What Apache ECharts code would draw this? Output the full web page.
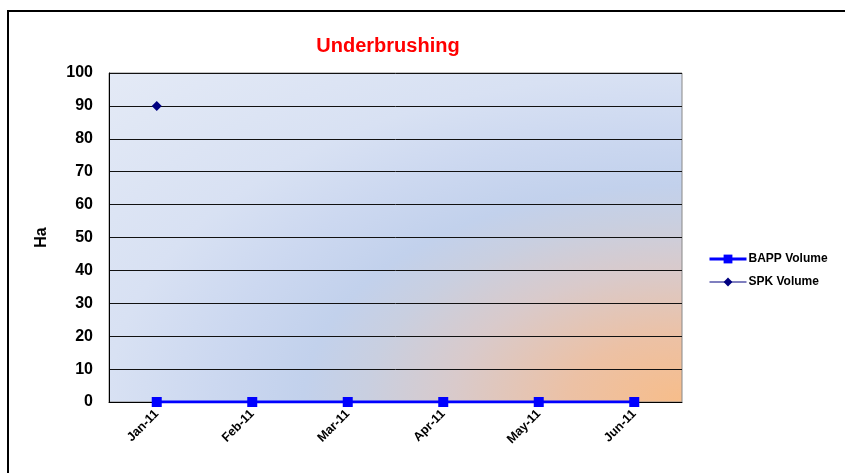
<!DOCTYPE html>
<html>
<head>
<meta charset="utf-8">
<script src="https://cdn.jsdelivr.net/npm/echarts@6/dist/echarts.min.js"></script>
<style>
  html, body { margin: 0; padding: 0; background: #fff; }
  #chart { width: 845px; height: 473px; }
</style>
</head>
<body>
<div id="chart"></div>
<script>
// data
var months = ['Jan-11', 'Feb-11', 'Mar-11', 'Apr-11', 'May-11', 'Jun-11'];
var bappVolume = [0, 0, 0, 0, 0, 0];
var spkVolume = [90, null, null, null, null, null];

var font = 'Arial, "Liberation Sans", sans-serif';

// plot area box
var gl = 109, gt = 73, gw = 573, gh = 329;

// Excel-like "from corner" fill: elliptical gradient out of the bottom-right corner
function cornerFill(w, h) {
    var c = document.createElement('canvas');
    c.width = w; c.height = h;
    var ctx = c.getContext('2d');
    var R = 1.42;
    var stops = [
        [0, '#f7bd8a'], [0.2, '#ecc1a5'], [0.4, '#d9cacb'], [0.55, '#c9cfe0'],
        [0.66, '#c2d1ec'], [0.82, '#ccd8f0'], [1.0, '#d8e1f3'], [1.42, '#e4eaf6']
    ];
    ctx.setTransform(w, 0, 0, h, 0, 0);
    var g = ctx.createRadialGradient(1, 1, 0, 1, 1, R);
    stops.forEach(function (s) { g.addColorStop(Math.min(1, s[0] / R), s[1]); });
    ctx.fillStyle = g;
    ctx.fillRect(0, 0, 1, 1);
    return c;
}

var option = {
    animation: false,
    title: {
        text: 'Underbrushing',
        left: 383,
        top: 31,
        textAlign: 'center',
        textStyle: { color: '#ff0000', fontSize: 20, fontWeight: 'bold', fontFamily: font }
    },
    legend: {
        orient: 'vertical',
        left: 703,
        top: 248,
        itemWidth: 37,
        itemHeight: 11,
        itemGap: 11,
        textStyle: { color: '#000', fontSize: 12, fontWeight: 'bold', fontFamily: font, padding: [0, 0, 0, -3] },
        data: [
            { name: 'BAPP Volume', lineStyle: { width: 3 } },
            { name: 'SPK Volume', lineStyle: { width: 1.2 } }
        ]
    },
    grid: {
        left: gl,
        top: gt,
        right: 845 - gl - gw,
        bottom: 473 - gt - gh,
        show: true,
        borderColor: '#888',
        borderWidth: 1,
        backgroundColor: 'transparent'
    },
    xAxis: {
        type: 'category',
        data: months,
        boundaryGap: true,
        axisLine: { lineStyle: { color: '#000', width: 1 } },
        axisTick: { show: false },
        axisLabel: {
            rotate: 45,
            margin: 10,
            color: '#000',
            fontSize: 12.5,
            fontWeight: 'bold',
            fontFamily: font
        }
    },
    yAxis: {
        type: 'value',
        min: 0,
        max: 100,
        interval: 10,
        name: 'Ha',
        nameLocation: 'middle',
        nameGap: 59,
        nameTextStyle: { color: '#000', fontSize: 16, fontWeight: 'bold', fontFamily: font },
        axisLine: { show: true, lineStyle: { color: '#000', width: 1 } },
        axisTick: { show: false },
        axisLabel: { margin: 16, color: '#000', fontSize: 16, fontWeight: 'bold', fontFamily: font },
        splitLine: { lineStyle: { color: '#111', width: 1 } }
    },
    graphic: [
        {
            type: 'image',
            z: -10,
            silent: true,
            x: gl,
            y: gt,
            style: { image: cornerFill(gw, gh), x: 0, y: 0, width: gw, height: gh }
        },
        {
            type: 'rect',
            shape: { x: 8, y: 11, width: 900, height: 500 },
            style: { fill: null, stroke: '#000', lineWidth: 2 },
            silent: true
        }
    ],
    series: [
        {
            name: 'BAPP Volume',
            type: 'line',
            data: bappVolume,
            color: '#0000ff',
            symbol: 'rect',
            symbolSize: 10,
            lineStyle: { width: 3, color: '#0000ff' },
            itemStyle: { color: '#0000ff' }
        },
        {
            name: 'SPK Volume',
            type: 'line',
            data: spkVolume,
            color: '#000080',
            symbol: 'diamond',
            symbolSize: 10,
            showAllSymbol: true,
            lineStyle: { width: 1, color: '#000080' },
            itemStyle: { color: '#000080' }
        }
    ]
};

var chart = echarts.init(document.getElementById('chart'));
chart.setOption(option);
</script>
</body>
</html>
